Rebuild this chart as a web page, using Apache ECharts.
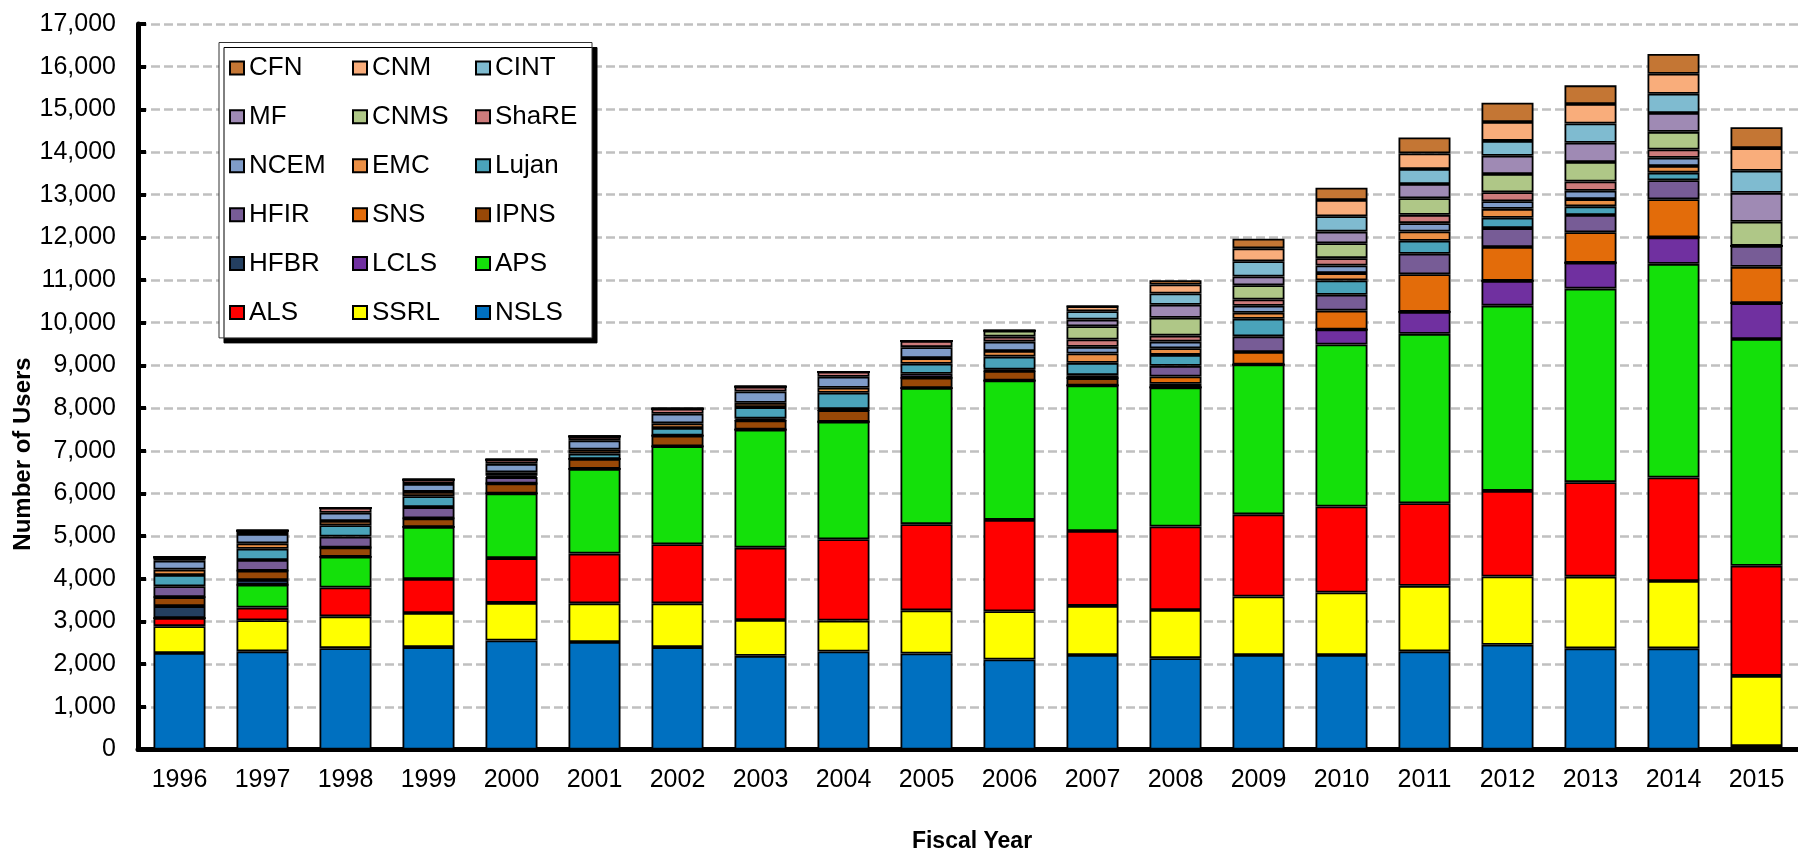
<!DOCTYPE html>
<html>
<head>
<meta charset="utf-8">
<script src="https://cdn.jsdelivr.net/npm/echarts@6/dist/echarts.min.js"></script>
<style>
  html, body { margin: 0; padding: 0; background: #fff; }
  #userChart { width: 1798px; height: 852px; }
</style>
</head>
<body>
<div id="userChart"></div>
<script>
// fiscal years
const years = ['1996', '1997', '1998', '1999', '2000', '2001', '2002', '2003', '2004', '2005',
  '2006', '2007', '2008', '2009', '2010', '2011', '2012', '2013', '2014', '2015'];

// users per facility, 1996..2015 (stacked bottom to top)
const NSLS = [2260, 2300, 2375, 2400, 2555, 2520, 2400, 2195, 2295, 2250, 2110, 2215, 2140, 2215, 2215, 2300, 2455, 2370, 2370, 80];
const SSRL = [630, 730, 745, 800, 880, 905, 1025, 840, 725, 1010, 1130, 1150, 1130, 1370, 1465, 1535, 1600, 1680, 1580, 1645];
const ALS = [190, 295, 675, 795, 1050, 1165, 1385, 1695, 1905, 2020, 2140, 1755, 1955, 1925, 2015, 1935, 2005, 2215, 2425, 2580];
const APS = [0, 535, 720, 1220, 1515, 1985, 2295, 2765, 2755, 3190, 3265, 3410, 3260, 3510, 3795, 3970, 4340, 4535, 5005, 5315];
const LCLS = [0, 0, 0, 0, 0, 0, 0, 0, 0, 0, 0, 0, 0, 0, 350, 515, 580, 605, 620, 840];
const HFBR = [280, 110, 0, 0, 0, 0, 0, 0, 0, 0, 0, 0, 0, 0, 0, 0, 0, 0, 0, 0];
const IPNS = [210, 220, 218, 200, 233, 233, 249, 218, 273, 240, 226, 172, 85, 0, 0, 0, 0, 0, 0, 0];
const SNS = [0, 0, 0, 0, 0, 0, 0, 0, 0, 0, 0, 0, 170, 296, 444, 880, 795, 715, 895, 850];
const HFIR = [255, 250, 256, 265, 150, 0, 0, 40, 25, 94, 30, 70, 250, 365, 373, 483, 443, 404, 443, 490];
const Lujan = [265, 265, 264, 256, 30, 125, 179, 270, 380, 234, 306, 288, 256, 412, 335, 303, 241, 203, 179, 0];
const EMC = [125, 125, 100, 100, 85, 93, 109, 100, 117, 133, 132, 219, 156, 140, 171, 218, 209, 170, 155, 0];
const NCEM = [210, 220, 195, 187, 195, 218, 226, 264, 258, 257, 219, 156, 156, 164, 179, 195, 179, 195, 195, 0];
const ShaRE = [80, 80, 116, 100, 100, 94, 116, 117, 117, 148, 117, 171, 140, 148, 171, 194, 210, 217, 194, 0];
const CNMS = [0, 0, 0, 0, 0, 0, 0, 0, 0, 0, 140, 312, 420, 334, 350, 390, 427, 459, 412, 567];
const MF = [0, 0, 0, 0, 0, 0, 0, 0, 0, 0, 0, 156, 303, 203, 273, 334, 428, 450, 443, 676];
const CINT = [0, 0, 0, 0, 0, 0, 0, 0, 0, 0, 0, 195, 265, 358, 358, 350, 349, 451, 450, 520];
const CNM = [0, 0, 0, 0, 0, 0, 0, 0, 0, 0, 0, 117, 210, 303, 381, 366, 443, 458, 467, 529];
const CFN = [0, 0, 0, 0, 0, 0, 0, 0, 0, 0, 0, 0, 101, 226, 288, 374, 451, 436, 466, 489];

const yTicks = [0, 17000, 1000]; // min, max, step

const facilities = [
  ['NSLS', NSLS, '#0070c0'],
  ['SSRL', SSRL, '#ffff00'],
  ['ALS', ALS, '#ff0000'],
  ['APS', APS, '#14e00a'],
  ['LCLS', LCLS, '#7030a0'],
  ['HFBR', HFBR, '#243f60'],
  ['IPNS', IPNS, '#984807'],
  ['SNS', SNS, '#e36c0a'],
  ['HFIR', HFIR, '#775c96'],
  ['Lujan', Lujan, '#4aa3ba'],
  ['EMC', EMC, '#ea8f45'],
  ['NCEM', NCEM, '#7f9cc9'],
  ['ShaRE', ShaRE, '#cd7b7b'],
  ['CNMS', CNMS, '#afc787'],
  ['MF', MF, '#9f8ab4'],
  ['CINT', CINT, '#7fbbd0'],
  ['CNM', CNM, '#f9ad7b'],
  ['CFN', CFN, '#c47634']
];

const fontFam = '"Liberation Sans", Arial, sans-serif';

let myChart = echarts.init(document.getElementById('userChart'));
let option = {
  animation: false,
  backgroundColor: '#fff',
  textStyle: { fontFamily: fontFam, color: '#000' },
  grid: { left: 138, right: 0, top: 24, bottom: 102.5 },
  legend: {
    data: facilities.map(f => f[0]).reverse(),
    selectedMode: false,
    left: 219,
    top: 42.5,
    width: 380,
    padding: [10, 12, 10, 10],
    itemGap: 18,
    itemWidth: 14,
    itemHeight: 13,
    icon: 'rect',
    backgroundColor: '#fff',
    borderColor: '#333',
    borderWidth: 1,
    shadowColor: '#000',
    shadowBlur: 0,
    shadowOffsetX: 5,
    shadowOffsetY: 5,
    textStyle: {
      fontFamily: fontFam,
      fontSize: 26,
      color: '#000',
      width: 85,
      lineHeight: 30.9
    }
  },
  xAxis: {
    type: 'category',
    data: years,
    axisLine: { lineStyle: { color: '#000', width: 5 } },
    axisTick: { show: false },
    axisLabel: { fontSize: 25, color: '#000', margin: 18, fontFamily: fontFam }
  },
  yAxis: {
    type: 'value',
    min: yTicks[0],
    max: yTicks[1],
    interval: yTicks[2],
    axisLine: { show: true, lineStyle: { color: '#000', width: 5 } },
    axisTick: { show: true, inside: true, length: 8, lineStyle: { color: '#000', width: 4 } },
    axisLabel: {
      fontSize: 25, color: '#000', margin: 22, fontFamily: fontFam,
      formatter: v => v.toLocaleString('en-US')
    },
    splitLine: { lineStyle: { color: '#c0c0c0', width: 2.5, type: [9, 4] } }
  },
  graphic: [
    {
      type: 'text', x: 23.5, y: 454, rotation: Math.PI / 2,
      style: {
        text: 'Number of Users', fontSize: 24, fontWeight: 'bold', fontFamily: fontFam,
        fill: '#000', align: 'center', verticalAlign: 'middle'
      }
    },
    {
      type: 'text', x: 972, y: 842,
      style: {
        text: 'Fiscal Year', fontSize: 23, fontWeight: 'bold', fontFamily: fontFam,
        fill: '#000', align: 'center', verticalAlign: 'middle'
      }
    }
  ],
  series: facilities.map(f => ({
    name: f[0],
    type: 'bar',
    stack: 'users',
    barWidth: 52,
    data: f[1],
    itemStyle: { color: f[2], borderColor: '#000', borderWidth: 1.8 }
  }))
};
myChart.setOption(option);
</script>
</body>
</html>
